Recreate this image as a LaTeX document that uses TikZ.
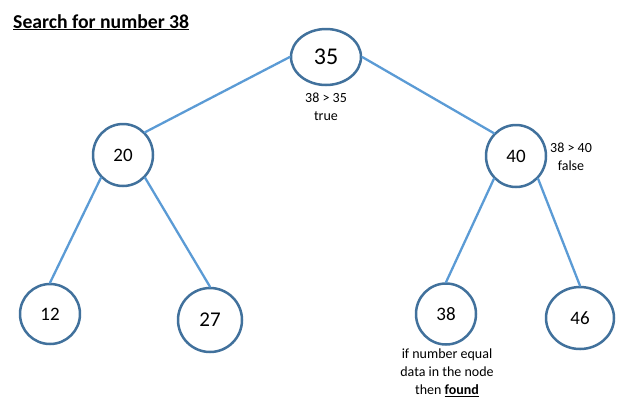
\documentclass[tikz,border=0pt]{standalone}
\usepackage{fontspec}
\setmainfont{Carlito}
\usetikzlibrary{shapes.geometric}
\definecolor{edgeblue}{HTML}{5B9BD5}
\definecolor{ringblue}{HTML}{41719C}
\begin{document}
\begin{tikzpicture}[x=1pt,y=-1pt, line join=round, line cap=round,
    ring/.style={ellipse,draw=ringblue,line width=2.5pt,inner sep=0pt,font=\fontsize{19}{19}\selectfont},
    branch/.style={edgeblue,line width=2.3pt},
    note/.style={align=center,inner sep=0pt,font=\fontsize{14}{18}\selectfont}]
    \useasboundingbox (0,0) rectangle (639,416);
    \node (title) at (13,28)[anchor=base west,inner sep=0pt,font=\bfseries\fontsize{19.7}{20}\selectfont]{\underline{Search for number 38}};
    % the tree
    \node (n35) at (326,57)[ring,minimum width=70pt,minimum height=56pt,font=\fontsize{24}{24}\selectfont]{35};
    \node (n20) at (123,155)[ring,minimum width=60pt,minimum height=62pt]{20};
    \node (n40) at (516,156)[ring,minimum width=60pt,minimum height=62pt]{40};
    \node (n12) at (50,314)[ring,minimum width=60pt,minimum height=60pt]{12};
    \node (n27) at (210,320)[ring,minimum width=64pt,minimum height=64pt,font=\fontsize{21}{21}\selectfont]{27};
    \node (n38) at (446,314)[ring,minimum width=60pt,minimum height=61pt]{38};
    \node (n46) at (580,318)[ring,minimum width=68pt,minimum height=62pt]{46};
    \draw[branch] (n35.west)--(n20.north east);
    \draw[branch] (n35.east)--(n40.north west);
    \draw[branch] (n20.south west)--(n12.north);
    \draw[branch] (n20.south east)--(n27.north);
    \draw[branch] (n40.south west)--(n38.north);
    \draw[branch] (n40.south east)--(n46.north);
    % notes
    \node (c35) at (326,93)[note,anchor=north]{38 > 35\\true};
    \node (c40) at (571,143)[note,anchor=north]{38 > 40\\false};
    \node (c38) at (447,349)[note,anchor=north]{if number equal\\data in the node\\then \underline{\textbf{found}}};
\end{tikzpicture}
\end{document}
